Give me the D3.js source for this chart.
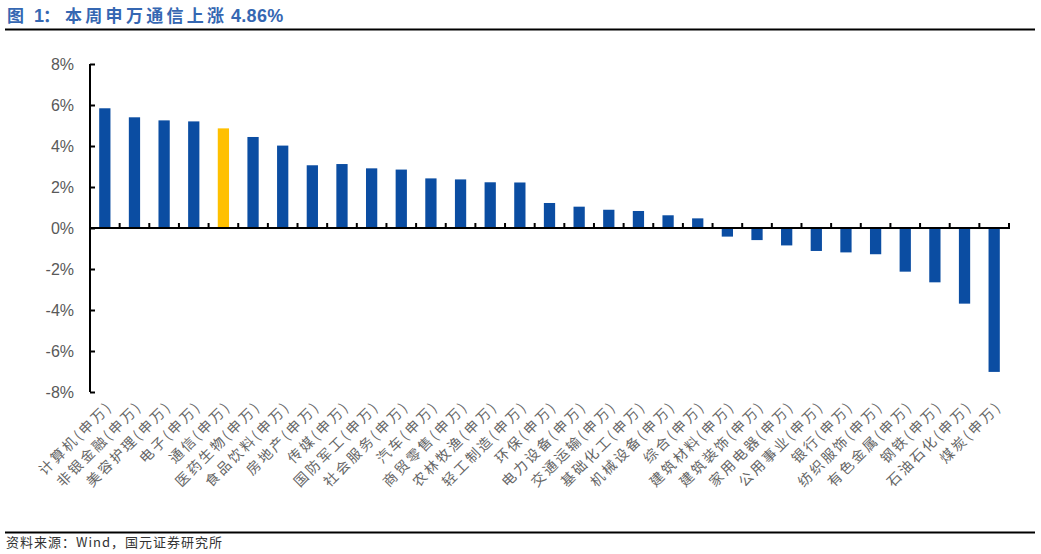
<!DOCTYPE html>
<html><head><meta charset="utf-8">
<script src="https://cdn.jsdelivr.net/npm/d3@7"></script>
<style>
body{margin:0;background:#fff;}
svg{display:block;}
</style></head>
<body>
<svg id="c" width="1041" height="554"></svg>
<script>
const categories = ["计算机(申万)","非银金融(申万)","美容护理(申万)","电子(申万)","通信(申万)","医药生物(申万)","食品饮料(申万)","房地产(申万)","传媒(申万)","国防军工(申万)","社会服务(申万)","汽车(申万)","商贸零售(申万)","农林牧渔(申万)","轻工制造(申万)","环保(申万)","电力设备(申万)","交通运输(申万)","基础化工(申万)","机械设备(申万)","综合(申万)","建筑材料(申万)","建筑装饰(申万)","家用电器(申万)","公用事业(申万)","银行(申万)","纺织服饰(申万)","有色金属(申万)","钢铁(申万)","石油石化(申万)","煤炭(申万)"];
const values = [5.84,5.40,5.25,5.20,4.86,4.44,4.02,3.06,3.12,2.91,2.85,2.42,2.37,2.23,2.22,1.22,1.04,0.89,0.83,0.62,0.47,-0.42,-0.59,-0.85,-1.12,-1.19,-1.28,-2.13,-2.65,-3.69,-7.02];
const highlight = "通信(申万)";
const yTicks = [8,6,4,2,0,-2,-4,-6,-8];
const titleParts = ["图", "1", "：", "本周申万通信上涨", "4.86%"];
const sourceText = "资料来源：Wind，国元证券研究所";

const svg = d3.select("#c");
const x = d3.scaleBand().domain(categories).range([90, 1009]).paddingInner(0.62).paddingOuter(0.31);
const y = d3.scaleLinear().domain([-8, 8]).range([392, 64]);

// title
const title = svg.append("text").attr("y", 22)
  .attr("font-family", "'Noto Sans CJK SC', 'Liberation Sans', sans-serif")
  .attr("font-size", 17).attr("font-weight", "bold").attr("fill", "#3567b2");
title.append("tspan").attr("x", 7).text(titleParts[0]);
title.append("tspan").attr("x", 34).attr("font-family", "'Liberation Sans', Arial, sans-serif").attr("font-size", 18).text(titleParts[1]);
title.append("tspan").attr("x", 43).text(titleParts[2]);
title.append("tspan").attr("x", 65).attr("letter-spacing", "3.3px").text(titleParts[3]);
title.append("tspan").attr("x", 231).attr("letter-spacing", "0.3px")
  .attr("font-family", "'Liberation Sans', Arial, sans-serif").attr("font-size", 18).text(titleParts[4]);
svg.append("line").attr("x1", 5).attr("x2", 1035).attr("y1", 29.5).attr("y2", 29.5)
  .attr("stroke", "#000").attr("stroke-width", 2);

// bars
svg.append("g").selectAll("rect").data(categories).join("rect")
  .attr("x", d => x(d))
  .attr("width", x.bandwidth())
  .attr("y", (d, i) => y(Math.max(0, values[i])))
  .attr("height", (d, i) => Math.abs(y(values[i]) - y(0)))
  .attr("fill", d => d === highlight ? "#ffc000" : "#0b4da2");

// y axis
const yAxis = d3.axisRight(y).tickValues(yTicks).tickSize(5).tickFormat(d => d + "%");
const gy = svg.append("g").attr("transform", "translate(90,0)").call(yAxis);
gy.select(".domain").attr("stroke", "#000").attr("stroke-width", 2).attr("d", "M0,64V392");
gy.selectAll(".tick line").attr("stroke", "#000").attr("stroke-width", 2).attr("x1", 0).attr("x2", 5);
gy.selectAll(".tick text").attr("x", -16).attr("text-anchor", "end").attr("dy", "0.35em")
  .attr("fill", "#595959").attr("font-size", 16)
  .attr("font-family", "'Liberation Sans', Arial, sans-serif");

// x axis at zero
const bounds = d3.range(categories.length + 1).map(i => 90 + i * (919 / categories.length));
const gx = svg.append("g");
gx.append("line").attr("x1", 90).attr("x2", 1010).attr("y1", y(0)).attr("y2", y(0))
  .attr("stroke", "#000").attr("stroke-width", 2);
gx.selectAll("line.t").data(bounds.slice(1)).join("line").attr("class", "t")
  .attr("x1", d => d).attr("x2", d => d).attr("y1", y(0)).attr("y2", y(0) - 5)
  .attr("stroke", "#000").attr("stroke-width", 2);

// x labels
svg.append("g").selectAll("text").data(categories).join("text")
  .attr("transform", d => `translate(${x(d) + x.bandwidth() / 2 + 5},${404}) rotate(-45)`)
  .attr("text-anchor", "end")
  .attr("dy", "0.35em")
  .attr("font-size", 14).attr("fill", "#666")
  .attr("letter-spacing", "2.5px")
  .attr("font-family", "'Noto Sans CJK SC', sans-serif")
  .text(d => d);

// bottom line and source
svg.append("line").attr("x1", 5).attr("x2", 1035).attr("y1", 532.5).attr("y2", 532.5)
  .attr("stroke", "#000").attr("stroke-width", 2);
svg.append("text").attr("x", 6).attr("y", 547)
  .attr("font-family", "'Noto Sans CJK SC', 'Liberation Sans', sans-serif")
  .attr("font-size", 13).attr("fill", "#333").attr("letter-spacing", "1px")
  .text(sourceText);
</script>
</body></html>
